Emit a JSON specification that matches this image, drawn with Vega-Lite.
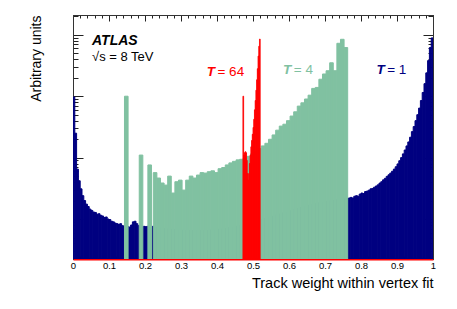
{
  "$schema": "https://vega.github.io/schema/vega-lite/v6.json",
  "width": 360,
  "height": 244,
  "autosize": {"type": "none"},
  "padding": {"left": 73, "top": 15, "right": 24, "bottom": 50},
  "config": {
    "view": {"stroke": "#333333", "strokeWidth": 1},
    "font": "Liberation Sans",
    "axis": {"grid": false, "zindex": 1, "tickColor": "#222222", "domainColor": "#333333", "labelFont": "Liberation Sans", "titleFont": "Liberation Sans", "labelColor": "#000000", "titleColor": "#000000", "titleFontWeight": "normal"}
  },
  "datasets": {
    "t1": [
      {"x0":0,"x1":0.005,"n":97},{"x0":0.005,"x1":0.01,"n":25},{"x0":0.01,"x1":0.015,"n":6.5},{"x0":0.015,"x1":0.02,"n":4.2},
      {"x0":0.02,"x1":0.025,"n":3.1},{"x0":0.025,"x1":0.03,"n":2.4},{"x0":0.03,"x1":0.035,"n":2.0},{"x0":0.035,"x1":0.04,"n":1.75},
      {"x0":0.04,"x1":0.045,"n":1.6},{"x0":0.045,"x1":0.05,"n":1.45},{"x0":0.05,"x1":0.055,"n":1.38},{"x0":0.055,"x1":0.06,"n":1.3},
      {"x0":0.06,"x1":0.065,"n":1.28},{"x0":0.065,"x1":0.07,"n":1.2},{"x0":0.07,"x1":0.075,"n":1.22},{"x0":0.075,"x1":0.08,"n":1.15},
      {"x0":0.08,"x1":0.085,"n":1.12},{"x0":0.085,"x1":0.09,"n":1.06},{"x0":0.09,"x1":0.095,"n":1.08},{"x0":0.095,"x1":0.1,"n":1.0},
      {"x0":0.1,"x1":0.105,"n":0.98},{"x0":0.105,"x1":0.11,"n":0.92},{"x0":0.11,"x1":0.115,"n":0.9},{"x0":0.115,"x1":0.12,"n":0.86},
      {"x0":0.12,"x1":0.125,"n":0.84},{"x0":0.125,"x1":0.13,"n":0.82},{"x0":0.13,"x1":0.135,"n":0.84},{"x0":0.135,"x1":0.14,"n":0.78},
      {"x0":0.14,"x1":0.145,"n":0.77},{"x0":0.145,"x1":0.15,"n":0.76},{"x0":0.15,"x1":0.155,"n":0.75},{"x0":0.155,"x1":0.16,"n":0.74},
      {"x0":0.16,"x1":0.165,"n":0.8},{"x0":0.165,"x1":0.17,"n":0.9},{"x0":0.17,"x1":0.175,"n":0.92},{"x0":0.175,"x1":0.18,"n":0.84},
      {"x0":0.18,"x1":0.185,"n":0.78},{"x0":0.185,"x1":0.19,"n":0.76},{"x0":0.19,"x1":0.195,"n":0.75},{"x0":0.195,"x1":0.2,"n":0.76},
      {"x0":0.2,"x1":0.205,"n":0.75},{"x0":0.205,"x1":0.21,"n":0.76},{"x0":0.21,"x1":0.215,"n":0.74},{"x0":0.215,"x1":0.22,"n":0.75},
      {"x0":0.22,"x1":0.225,"n":0.76},{"x0":0.225,"x1":0.23,"n":0.74},{"x0":0.23,"x1":0.235,"n":0.73},{"x0":0.235,"x1":0.24,"n":0.72},
      {"x0":0.24,"x1":0.245,"n":0.72},{"x0":0.245,"x1":0.25,"n":0.71},{"x0":0.25,"x1":0.255,"n":0.7},{"x0":0.255,"x1":0.26,"n":0.7},
      {"x0":0.26,"x1":0.265,"n":0.69},{"x0":0.265,"x1":0.27,"n":0.69},{"x0":0.27,"x1":0.275,"n":0.68},{"x0":0.275,"x1":0.28,"n":0.68},
      {"x0":0.28,"x1":0.285,"n":0.67},{"x0":0.285,"x1":0.29,"n":0.67},{"x0":0.29,"x1":0.295,"n":0.67},{"x0":0.295,"x1":0.3,"n":0.66},
      {"x0":0.3,"x1":0.305,"n":0.66},{"x0":0.305,"x1":0.31,"n":0.66},{"x0":0.31,"x1":0.315,"n":0.65},{"x0":0.315,"x1":0.32,"n":0.66},
      {"x0":0.32,"x1":0.325,"n":0.65},{"x0":0.325,"x1":0.33,"n":0.65},{"x0":0.33,"x1":0.335,"n":0.65},{"x0":0.335,"x1":0.34,"n":0.64},
      {"x0":0.34,"x1":0.345,"n":0.65},{"x0":0.345,"x1":0.35,"n":0.64},{"x0":0.35,"x1":0.355,"n":0.65},{"x0":0.355,"x1":0.36,"n":0.64},
      {"x0":0.36,"x1":0.365,"n":0.65},{"x0":0.365,"x1":0.37,"n":0.65},{"x0":0.37,"x1":0.375,"n":0.65},{"x0":0.375,"x1":0.38,"n":0.66},
      {"x0":0.38,"x1":0.385,"n":0.66},{"x0":0.385,"x1":0.39,"n":0.66},{"x0":0.39,"x1":0.395,"n":0.67},{"x0":0.395,"x1":0.4,"n":0.67},
      {"x0":0.4,"x1":0.405,"n":0.68},{"x0":0.405,"x1":0.41,"n":0.68},{"x0":0.41,"x1":0.415,"n":0.69},{"x0":0.415,"x1":0.42,"n":0.7},
      {"x0":0.42,"x1":0.425,"n":0.7},{"x0":0.425,"x1":0.43,"n":0.71},{"x0":0.43,"x1":0.435,"n":0.72},{"x0":0.435,"x1":0.44,"n":0.73},
      {"x0":0.44,"x1":0.445,"n":0.74},{"x0":0.445,"x1":0.45,"n":0.75},{"x0":0.45,"x1":0.455,"n":0.76},{"x0":0.455,"x1":0.46,"n":0.77},
      {"x0":0.46,"x1":0.465,"n":0.78},{"x0":0.465,"x1":0.47,"n":0.8},{"x0":0.47,"x1":0.475,"n":0.81},{"x0":0.475,"x1":0.48,"n":0.82},
      {"x0":0.48,"x1":0.485,"n":0.84},{"x0":0.485,"x1":0.49,"n":0.85},{"x0":0.49,"x1":0.495,"n":0.87},{"x0":0.495,"x1":0.5,"n":0.88},
      {"x0":0.5,"x1":0.505,"n":0.9},{"x0":0.505,"x1":0.51,"n":0.92},{"x0":0.51,"x1":0.515,"n":0.94},{"x0":0.515,"x1":0.52,"n":0.96},
      {"x0":0.52,"x1":0.525,"n":0.98},{"x0":0.525,"x1":0.53,"n":1.0},{"x0":0.53,"x1":0.535,"n":1.02},{"x0":0.535,"x1":0.54,"n":1.04},
      {"x0":0.54,"x1":0.545,"n":1.06},{"x0":0.545,"x1":0.55,"n":1.08},{"x0":0.55,"x1":0.555,"n":1.1},{"x0":0.555,"x1":0.56,"n":1.12},
      {"x0":0.56,"x1":0.565,"n":1.15},{"x0":0.565,"x1":0.57,"n":1.17},{"x0":0.57,"x1":0.575,"n":1.2},{"x0":0.575,"x1":0.58,"n":1.22},
      {"x0":0.58,"x1":0.585,"n":1.25},{"x0":0.585,"x1":0.59,"n":1.28},{"x0":0.59,"x1":0.595,"n":1.3},{"x0":0.595,"x1":0.6,"n":1.33},
      {"x0":0.6,"x1":0.605,"n":1.36},{"x0":0.605,"x1":0.61,"n":1.39},{"x0":0.61,"x1":0.615,"n":1.42},{"x0":0.615,"x1":0.62,"n":1.45},
      {"x0":0.62,"x1":0.625,"n":1.48},{"x0":0.625,"x1":0.63,"n":1.51},{"x0":0.63,"x1":0.635,"n":1.54},{"x0":0.635,"x1":0.64,"n":1.57},
      {"x0":0.64,"x1":0.645,"n":1.6},{"x0":0.645,"x1":0.65,"n":1.63},{"x0":0.65,"x1":0.655,"n":1.66},{"x0":0.655,"x1":0.66,"n":1.69},
      {"x0":0.66,"x1":0.665,"n":1.72},{"x0":0.665,"x1":0.67,"n":1.75},{"x0":0.67,"x1":0.675,"n":1.78},{"x0":0.675,"x1":0.68,"n":1.8},
      {"x0":0.68,"x1":0.685,"n":1.83},{"x0":0.685,"x1":0.69,"n":1.86},{"x0":0.69,"x1":0.695,"n":1.88},{"x0":0.695,"x1":0.7,"n":1.9},
      {"x0":0.7,"x1":0.705,"n":1.93},{"x0":0.705,"x1":0.71,"n":1.95},{"x0":0.71,"x1":0.715,"n":1.97},{"x0":0.715,"x1":0.72,"n":1.99},
      {"x0":0.72,"x1":0.725,"n":2.01},{"x0":0.725,"x1":0.73,"n":2.03},{"x0":0.73,"x1":0.735,"n":2.05},{"x0":0.735,"x1":0.74,"n":2.07},
      {"x0":0.74,"x1":0.745,"n":2.09},{"x0":0.745,"x1":0.75,"n":2.1},{"x0":0.75,"x1":0.755,"n":2.12},{"x0":0.755,"x1":0.76,"n":2.14},
      {"x0":0.76,"x1":0.765,"n":2.15},{"x0":0.765,"x1":0.77,"n":2.2},{"x0":0.77,"x1":0.775,"n":2.25},{"x0":0.775,"x1":0.78,"n":2.2},
      {"x0":0.78,"x1":0.785,"n":2.35},{"x0":0.785,"x1":0.79,"n":2.4},{"x0":0.79,"x1":0.795,"n":2.35},{"x0":0.795,"x1":0.8,"n":2.55},
      {"x0":0.8,"x1":0.805,"n":2.65},{"x0":0.805,"x1":0.81,"n":2.6},{"x0":0.81,"x1":0.815,"n":2.8},{"x0":0.815,"x1":0.82,"n":2.85},
      {"x0":0.82,"x1":0.825,"n":2.95},{"x0":0.825,"x1":0.83,"n":3.1},{"x0":0.83,"x1":0.835,"n":3.15},{"x0":0.835,"x1":0.84,"n":3.3},
      {"x0":0.84,"x1":0.845,"n":3.45},{"x0":0.845,"x1":0.85,"n":3.6},{"x0":0.85,"x1":0.855,"n":3.85},{"x0":0.855,"x1":0.86,"n":4.05},
      {"x0":0.86,"x1":0.865,"n":4.35},{"x0":0.865,"x1":0.87,"n":4.6},{"x0":0.87,"x1":0.875,"n":4.95},{"x0":0.875,"x1":0.88,"n":5.25},
      {"x0":0.88,"x1":0.885,"n":5.6},{"x0":0.885,"x1":0.89,"n":6.0},{"x0":0.89,"x1":0.895,"n":6.5},{"x0":0.895,"x1":0.9,"n":7.1},
      {"x0":0.9,"x1":0.905,"n":7.9},{"x0":0.905,"x1":0.91,"n":8.9},{"x0":0.91,"x1":0.915,"n":10.0},{"x0":0.915,"x1":0.92,"n":11.5},
      {"x0":0.92,"x1":0.925,"n":13.3},{"x0":0.925,"x1":0.93,"n":15.5},{"x0":0.93,"x1":0.935,"n":18.0},{"x0":0.935,"x1":0.94,"n":21.5},
      {"x0":0.94,"x1":0.945,"n":26.5},{"x0":0.945,"x1":0.95,"n":32},{"x0":0.95,"x1":0.955,"n":40},{"x0":0.955,"x1":0.96,"n":50},
      {"x0":0.96,"x1":0.965,"n":64},{"x0":0.965,"x1":0.97,"n":85},{"x0":0.97,"x1":0.975,"n":115},{"x0":0.975,"x1":0.98,"n":160},
      {"x0":0.98,"x1":0.985,"n":240},{"x0":0.985,"x1":0.99,"n":380},{"x0":0.99,"x1":0.995,"n":620},{"x0":0.995,"x1":1.0,"n":890}
    ],
    "t4": [
      {"x0":0.143,"x1":0.153,"n":100},{"x0":0.184,"x1":0.194,"n":11},{"x0":0.208,"x1":0.218,"n":7.6},
      {"x0":0.223,"x1":0.233,"n":5.7},{"x0":0.233,"x1":0.243,"n":4.65},{"x0":0.243,"x1":0.253,"n":3.86},{"x0":0.253,"x1":0.263,"n":3.57},
      {"x0":0.263,"x1":0.273,"n":5.0},{"x0":0.273,"x1":0.283,"n":2.65},{"x0":0.283,"x1":0.293,"n":4.05},{"x0":0.293,"x1":0.303,"n":4.3},
      {"x0":0.303,"x1":0.313,"n":2.96},{"x0":0.313,"x1":0.323,"n":4.3},{"x0":0.323,"x1":0.333,"n":5.0},{"x0":0.333,"x1":0.343,"n":4.65},
      {"x0":0.343,"x1":0.353,"n":5.2},{"x0":0.353,"x1":0.363,"n":5.7},{"x0":0.363,"x1":0.373,"n":5.6},{"x0":0.373,"x1":0.383,"n":5.9},
      {"x0":0.383,"x1":0.393,"n":6.1},{"x0":0.393,"x1":0.403,"n":5.7},{"x0":0.403,"x1":0.413,"n":6.6},{"x0":0.413,"x1":0.423,"n":6.9},
      {"x0":0.423,"x1":0.433,"n":7.6},{"x0":0.433,"x1":0.443,"n":8.2},{"x0":0.443,"x1":0.453,"n":8.7},{"x0":0.453,"x1":0.463,"n":9.2},
      {"x0":0.463,"x1":0.473,"n":9.4},{"x0":0.473,"x1":0.483,"n":9.8},{"x0":0.483,"x1":0.493,"n":10.5},{"x0":0.493,"x1":0.503,"n":11.5},
      {"x0":0.503,"x1":0.513,"n":12.5},{"x0":0.513,"x1":0.523,"n":14},{"x0":0.523,"x1":0.533,"n":15.5},{"x0":0.533,"x1":0.543,"n":17.1},
      {"x0":0.543,"x1":0.553,"n":19.9},{"x0":0.553,"x1":0.563,"n":23.4},{"x0":0.563,"x1":0.573,"n":28},{"x0":0.573,"x1":0.583,"n":32.6},
      {"x0":0.583,"x1":0.593,"n":35},{"x0":0.593,"x1":0.603,"n":40},{"x0":0.603,"x1":0.613,"n":47.5},{"x0":0.613,"x1":0.623,"n":55.7},
      {"x0":0.623,"x1":0.633,"n":69},{"x0":0.633,"x1":0.643,"n":78},{"x0":0.643,"x1":0.653,"n":90},{"x0":0.653,"x1":0.663,"n":104},
      {"x0":0.663,"x1":0.673,"n":134},{"x0":0.673,"x1":0.683,"n":139},{"x0":0.683,"x1":0.693,"n":189},{"x0":0.693,"x1":0.703,"n":230},
      {"x0":0.703,"x1":0.713,"n":260},{"x0":0.713,"x1":0.723,"n":350},{"x0":0.723,"x1":0.733,"n":260},{"x0":0.733,"x1":0.743,"n":727},
      {"x0":0.743,"x1":0.753,"n":845},{"x0":0.753,"x1":0.763,"n":620}
    ],
    "t64": [
      {"x0":0.472,"x1":0.474,"n":100},{"x0":0.474,"x1":0.476,"n":11},{"x0":0.476,"x1":0.478,"n":12},{"x0":0.478,"x1":0.48,"n":12.5},
      {"x0":0.48,"x1":0.482,"n":12},{"x0":0.482,"x1":0.484,"n":9},{"x0":0.484,"x1":0.486,"n":5.5},{"x0":0.486,"x1":0.488,"n":4.3},
      {"x0":0.488,"x1":0.49,"n":5.5},{"x0":0.49,"x1":0.492,"n":8},{"x0":0.492,"x1":0.494,"n":11},{"x0":0.494,"x1":0.496,"n":15},
      {"x0":0.496,"x1":0.498,"n":19},{"x0":0.498,"x1":0.5,"n":24},{"x0":0.5,"x1":0.502,"n":31},{"x0":0.502,"x1":0.504,"n":42},
      {"x0":0.504,"x1":0.506,"n":60},{"x0":0.506,"x1":0.508,"n":85},{"x0":0.508,"x1":0.51,"n":125},{"x0":0.51,"x1":0.512,"n":185},
      {"x0":0.512,"x1":0.514,"n":280},{"x0":0.514,"x1":0.516,"n":450},{"x0":0.516,"x1":0.518,"n":650},{"x0":0.518,"x1":0.52,"n":850}
    ]
  },
  "resolve": {"axis": {"x": "independent", "y": "independent"}},
  "layer": [
    {
      "data": {"name": "t1"},
      "mark": {"type": "rect", "color": "#000080", "stroke": "#000080", "strokeWidth": 1, "clip": true},
      "encoding": {
        "x": {"field": "x0", "type": "quantitative", "scale": {"domain": [0, 1], "nice": false, "zero": false},
          "axis": {"orient": "bottom",
            "values": [0,0.02,0.04,0.06,0.08,0.1,0.12,0.14,0.16,0.18,0.2,0.22,0.24,0.26,0.28,0.3,0.32,0.34,0.36,0.38,0.4,0.42,0.44,0.46,0.48,0.5,0.52,0.54,0.56,0.58,0.6,0.62,0.64,0.66,0.68,0.7,0.72,0.74,0.76,0.78,0.8,0.82,0.84,0.86,0.88,0.9,0.92,0.94,0.96,0.98,1],
            "labelExpr": "abs(datum.value*10 - round(datum.value*10)) < 0.001 ? format(datum.value, '.1~f') : ''",
            "tickSize": {"condition": {"test": "abs(datum.value*10 - round(datum.value*10)) < 0.001", "value": -6}, "value": -3},
            "domainColor": "#ff0000", "domainWidth": 2,
            "labelFontSize": 9.5, "labelPadding": 7, "labelFlush": false, "labelOverlap": false,
            "title": "Track weight within vertex fit", "titleAnchor": "end", "titleFontSize": 14.5, "titlePadding": 4}},
        "x2": {"field": "x1"},
        "y": {"field": "n", "type": "quantitative", "scale": {"type": "log", "domain": [0.2235, 2100], "nice": false},
          "axis": {"orient": "left",
            "values": [0.3,0.4,0.5,0.6,0.7,0.8,0.9,1,2,3,4,5,6,7,8,9,10,20,30,40,50,60,70,80,90,100,200,300,400,500,600,700,800,900,1000,2000],
            "labels": false,
            "tickSize": {"condition": {"test": "abs(log(datum.value)/LN10 - round(log(datum.value)/LN10)) < 0.001", "value": -10}, "value": -5},
            "title": "Arbitrary units", "titleAnchor": "end", "titleFontSize": 14, "titlePadding": 29}},
        "y2": {"datum": 0.2235}
      }
    },
    {
      "data": {"name": "t4"},
      "mark": {"type": "rect", "color": "#80c1a1", "stroke": "#80c1a1", "strokeWidth": 1, "clip": true},
      "encoding": {
        "x": {"field": "x0", "type": "quantitative", "scale": {"domain": [0, 1], "nice": false, "zero": false}, "axis": null},
        "x2": {"field": "x1"},
        "y": {"field": "n", "type": "quantitative", "scale": {"type": "log", "domain": [0.2235, 2100], "nice": false}, "axis": null},
        "y2": {"datum": 0.2235}
      }
    },
    {
      "data": {"name": "t64"},
      "mark": {"type": "rect", "color": "#ff0000", "stroke": "#ff0000", "strokeWidth": 0.8, "clip": true},
      "encoding": {
        "x": {"field": "x0", "type": "quantitative", "scale": {"domain": [0, 1], "nice": false, "zero": false},
          "axis": {"orient": "top", "labels": false, "title": null,
            "values": [0,0.02,0.04,0.06,0.08,0.1,0.12,0.14,0.16,0.18,0.2,0.22,0.24,0.26,0.28,0.3,0.32,0.34,0.36,0.38,0.4,0.42,0.44,0.46,0.48,0.5,0.52,0.54,0.56,0.58,0.6,0.62,0.64,0.66,0.68,0.7,0.72,0.74,0.76,0.78,0.8,0.82,0.84,0.86,0.88,0.9,0.92,0.94,0.96,0.98,1],
            "tickSize": {"condition": {"test": "abs(datum.value*10 - round(datum.value*10)) < 0.001", "value": -6}, "value": -3}}},
        "x2": {"field": "x1"},
        "y": {"field": "n", "type": "quantitative", "scale": {"type": "log", "domain": [0.2235, 2100], "nice": false},
          "axis": {"orient": "right", "labels": false, "title": null,
            "values": [0.3,0.4,0.5,0.6,0.7,0.8,0.9,1,2,3,4,5,6,7,8,9,10,20,30,40,50,60,70,80,90,100,200,300,400,500,600,700,800,900,1000,2000],
            "tickSize": {"condition": {"test": "abs(log(datum.value)/LN10 - round(log(datum.value)/LN10)) < 0.001", "value": -10}, "value": -5}}},
        "y2": {"datum": 0.2235}
      }
    },
    {
      "data": {"values": [{"label": "ATLAS"}]},
      "mark": {"type": "text", "fontSize": 14, "fontWeight": "bold", "fontStyle": "italic", "align": "left", "baseline": "alphabetic", "color": "#000000"},
      "encoding": {
        "x": {"datum": 0.0528, "type": "quantitative", "scale": {"domain": [0, 1], "nice": false, "zero": false}, "axis": null},
        "y": {"datum": 681, "type": "quantitative", "scale": {"type": "log", "domain": [0.2235, 2100], "nice": false}, "axis": null},
        "text": {"field": "label"}
      }
    },
    {
      "data": {"values": [{"label": "√s = 8 TeV"}]},
      "mark": {"type": "text", "fontSize": 13, "align": "left", "baseline": "alphabetic", "color": "#000000"},
      "encoding": {
        "x": {"datum": 0.0528, "type": "quantitative", "scale": {"domain": [0, 1], "nice": false, "zero": false}, "axis": null},
        "y": {"datum": 374, "type": "quantitative", "scale": {"type": "log", "domain": [0.2235, 2100], "nice": false}, "axis": null},
        "text": {"field": "label"}
      }
    },
    {
      "data": {"values": [{"label": "T"}]},
      "mark": {"type": "text", "fontSize": 13.5, "fontWeight": "bold", "fontStyle": "italic", "align": "right", "baseline": "alphabetic", "color": "#ff0000"},
      "encoding": {
        "x": {"datum": 0.3944, "type": "quantitative", "scale": {"domain": [0, 1], "nice": false, "zero": false}, "axis": null},
        "y": {"datum": 213, "type": "quantitative", "scale": {"type": "log", "domain": [0.2235, 2100], "nice": false}, "axis": null},
        "text": {"field": "label"}
      }
    },
    {
      "data": {"values": [{"label": "= 64"}]},
      "mark": {"type": "text", "fontSize": 13.5, "align": "left", "baseline": "alphabetic", "dx": 2.5, "color": "#ff0000"},
      "encoding": {
        "x": {"datum": 0.3944, "type": "quantitative", "scale": {"domain": [0, 1], "nice": false, "zero": false}, "axis": null},
        "y": {"datum": 213, "type": "quantitative", "scale": {"type": "log", "domain": [0.2235, 2100], "nice": false}, "axis": null},
        "text": {"field": "label"}
      }
    },
    {
      "data": {"values": [{"label": "T"}]},
      "mark": {"type": "text", "fontSize": 13.5, "fontWeight": "bold", "fontStyle": "italic", "align": "right", "baseline": "alphabetic", "color": "#80c1a1"},
      "encoding": {
        "x": {"datum": 0.6064, "type": "quantitative", "scale": {"domain": [0, 1], "nice": false, "zero": false}, "axis": null},
        "y": {"datum": 230, "type": "quantitative", "scale": {"type": "log", "domain": [0.2235, 2100], "nice": false}, "axis": null},
        "text": {"field": "label"}
      }
    },
    {
      "data": {"values": [{"label": "= 4"}]},
      "mark": {"type": "text", "fontSize": 13.5, "align": "left", "baseline": "alphabetic", "dx": 2.5, "color": "#80c1a1"},
      "encoding": {
        "x": {"datum": 0.6064, "type": "quantitative", "scale": {"domain": [0, 1], "nice": false, "zero": false}, "axis": null},
        "y": {"datum": 230, "type": "quantitative", "scale": {"type": "log", "domain": [0.2235, 2100], "nice": false}, "axis": null},
        "text": {"field": "label"}
      }
    },
    {
      "data": {"values": [{"label": "T"}]},
      "mark": {"type": "text", "fontSize": 13.5, "fontWeight": "bold", "fontStyle": "italic", "align": "right", "baseline": "alphabetic", "color": "#000080"},
      "encoding": {
        "x": {"datum": 0.8658, "type": "quantitative", "scale": {"domain": [0, 1], "nice": false, "zero": false}, "axis": null},
        "y": {"datum": 230, "type": "quantitative", "scale": {"type": "log", "domain": [0.2235, 2100], "nice": false}, "axis": null},
        "text": {"field": "label"}
      }
    },
    {
      "data": {"values": [{"label": "= 1"}]},
      "mark": {"type": "text", "fontSize": 13.5, "align": "left", "baseline": "alphabetic", "dx": 2.5, "color": "#000080"},
      "encoding": {
        "x": {"datum": 0.8658, "type": "quantitative", "scale": {"domain": [0, 1], "nice": false, "zero": false}, "axis": null},
        "y": {"datum": 230, "type": "quantitative", "scale": {"type": "log", "domain": [0.2235, 2100], "nice": false}, "axis": null},
        "text": {"field": "label"}
      }
    }
  ]
}
